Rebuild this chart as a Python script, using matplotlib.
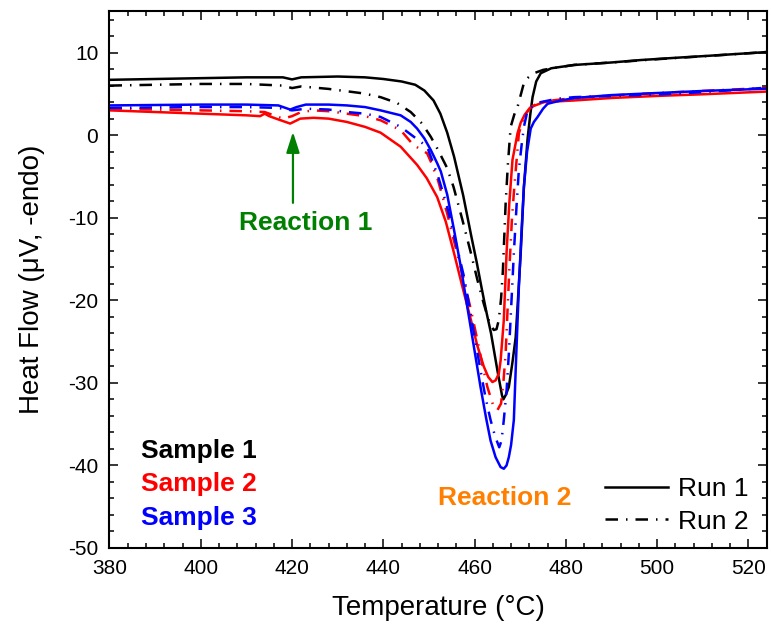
import matplotlib
matplotlib.use('Agg')
import matplotlib.pyplot as plt
from matplotlib.lines import Line2D
from matplotlib.ticker import MultipleLocator

plt.rcParams['font.family'] = ['Liberation Sans', 'DejaVu Sans']
plt.rcParams['axes.unicode_minus'] = False

# temperature (C) / heat flow (uV)
s1_run1_T = [380, 390, 400, 410, 418, 420, 422, 430, 436, 440, 444, 447, 449, 451, 452.5, 454, 455.5,
             457.5, 459.3, 460.5, 461.5, 462.5, 463.6, 465, 466, 466.3, 466.8, 467.5, 468.3, 469, 469.6,
             470.1, 470.8, 471.6, 472.2, 472.7, 473.5, 474.5, 476.8, 481.8, 490, 496.5, 505, 511, 518, 525]
s1_run1_y = [6.7, 6.8, 6.9, 7.0, 7.0, 6.75, 7.0, 7.1, 7.0, 6.8, 6.5, 6.1, 5.4, 4.2, 2.6, 0.3, -2.6,
             -7.3, -12.3, -15.5, -18.4, -21.2, -24.0, -28.5, -31.5, -32.0, -31.5, -30.5, -27.5, -24.5, -19.0,
             -14.3, -6.3, -0.5, 2.5, 4.6, 6.5, 7.5, 8.1, 8.5, 8.8, 9.1, 9.4, 9.6, 9.85, 10.1]

s1_run2_T = [380, 390, 400, 410, 418, 420, 422, 428, 435.7, 439.4, 443, 446, 448.5, 450.4, 452, 454,
             455.4, 457.3, 459.2, 460.6, 462, 463.3, 464.2, 464.8, 465.3, 465.8, 466.2, 466.8, 467.3,
             467.9, 468.7, 469.4, 470.8, 471.8, 473, 475, 477, 481.8, 490, 500, 510, 525]
s1_run2_y = [6.0, 6.1, 6.2, 6.2, 6.0, 5.7, 5.9, 5.6, 5.05, 4.6, 3.9, 2.8, 1.4, -0.2, -1.8, -4.0,
             -6.3, -10.2, -14.3, -17.5, -20.4, -22.8, -23.6, -23.5, -22.4, -19.8, -16.4, -8.3, -3.5,
             1.0, 2.5, 3.4, 6.3, 7.0, 7.5, 7.9, 8.1, 8.5, 8.8, 9.2, 9.55, 10.1]

s2_run1_T = [380, 390, 400, 410, 413, 414, 415, 417, 419.6, 421.8, 424.7, 428, 432, 436, 439.4, 443.8,
             447.4, 449.5, 451.8, 453.7, 455.5, 457.3, 459.2, 460.6, 462, 463, 463.9, 464.6, 465.3,
             465.7, 466.4, 467, 467.6, 468.3, 469.4, 470.1, 471, 472.3, 475.2, 481.8, 490, 500, 510, 525]
s2_run1_y = [3.0, 2.8, 2.6, 2.4, 2.3, 2.6, 2.3, 1.9, 1.4, 2.0, 2.1, 2.0, 1.6, 1.0, 0.3, -1.4,
             -3.6, -5.2, -7.5, -10.5, -14.3, -18.3, -22.4, -25.5, -28.0, -29.3, -29.9, -29.7, -28.9,
             -27.3, -22.4, -14.3, -8.3, -3.0, 0.2, 1.5, 2.5, 3.4, 4.0, 4.2, 4.5, 4.75, 4.95, 5.3]

s2_run2_T = [380, 390, 400, 410, 414, 416, 418, 420, 422, 424.7, 428, 432, 436, 439.4, 443.8, 446.6,
             449.6, 450.4, 452, 454, 455.8, 457.7, 459.2, 460.6, 461.7, 462.8, 464, 465, 465.8, 466.3,
             466.8, 467.6, 468.2, 468.7, 469.7, 470.8, 472, 473.8, 477, 481.8, 490, 500, 510, 525]
s2_run2_y = [3.2, 3.1, 3.0, 2.9, 2.8, 2.4, 2.0, 2.3, 2.8, 3.0, 2.9, 2.6, 2.3, 1.8, 0.6, -1.2,
             -2.2, -3.2, -5.5, -9.5, -13.5, -17.6, -21.2, -24.8, -27.8, -30.5, -32.6, -33.3, -32.5, -30.0,
             -26.5, -16.4, -10.0, -6.3, 0.2, 2.2, 3.2, 3.9, 4.2, 4.5, 4.8, 5.1, 5.35, 5.75]

s3_run1_T = [380, 390, 400, 410, 417, 419.6, 421, 423, 428, 432, 436, 439.4, 443.8, 446, 447.4, 449,
             450.4, 451.8, 452.6, 454, 455.5, 457, 458.4, 459.9, 461.3, 462.5, 463.5, 464.6, 465.7,
             466.4, 467, 467.5, 468, 468.6, 469.1, 469.7, 470.3, 470.8, 471.5, 472.3, 473, 473.8, 475,
             476, 478.9, 482, 490, 500, 510, 525]
s3_run1_y = [3.6, 3.65, 3.7, 3.7, 3.6, 3.1, 3.4, 3.7, 3.7, 3.6, 3.4, 3.0, 2.4, 1.6, 0.8, -0.4,
             -1.8, -3.4, -4.4, -7.2, -11.5, -16.0, -20.8, -25.8, -30.5, -34.2, -37.0, -39.0, -40.2,
             -40.4, -40.0, -39.0, -37.5, -34.5, -27.0, -18.4, -11.5, -6.3, -2.0, 0.8, 1.6, 2.2, 3.2,
             3.8, 4.2, 4.5, 4.85, 5.1, 5.35, 5.65]

s3_run2_T = [380, 390, 400, 410, 417, 420, 423, 428, 432, 436, 439.4, 443.8, 446.7, 449.6, 450.4, 452,
             454, 455.8, 457.7, 459.5, 461.3, 462.4, 463.5, 464.5, 465.4, 465.9, 466.4, 467, 467.5, 468,
             468.6, 469.2, 469.7, 470.3, 470.8, 471.6, 473, 474.5, 478, 481.8, 490, 496.5, 505, 511,
             518, 525]
s3_run2_y = [3.3, 3.35, 3.4, 3.4, 3.3, 3.0, 3.2, 3.1, 2.8, 2.6, 2.2, 1.0, -0.2, -1.4, -2.6, -5.0,
             -8.7, -12.8, -17.2, -22.8, -28.5, -31.8, -34.5, -36.5, -37.8, -37.0, -34.5, -31.0, -26.5, -21.0,
             -14.3, -8.5, -4.2, -1.2, 1.0, 3.0, 3.6, 4.0, 4.4, 4.6, 4.75, 4.85, 5.05, 5.25,
             5.5, 5.8]

sample_names = ['Sample 1', 'Sample 2', 'Sample 3']
sample_colors = ['black', 'red', 'blue']
run_names = ['Run 1', 'Run 2']

dashdot = (0, (5, 3.2, 0.6, 3.2))

fig = plt.figure(figsize=(7.71, 6.27), dpi=100)
ax = fig.add_axes([0.142, 0.126, 0.8524, 0.856])

ax.plot(s1_run1_T, s1_run1_y, color='black', lw=1.8)
ax.plot(s1_run2_T, s1_run2_y, color='black', lw=1.8, linestyle=dashdot)
ax.plot(s2_run1_T, s2_run1_y, color='red', lw=1.8)
ax.plot(s2_run2_T, s2_run2_y, color='red', lw=1.8, linestyle=dashdot)
ax.plot(s3_run1_T, s3_run1_y, color='blue', lw=1.8)
ax.plot(s3_run2_T, s3_run2_y, color='blue', lw=1.8, linestyle=dashdot)

ax.set_xlim(380, 524)
ax.set_ylim(-50, 15)
ax.xaxis.set_major_locator(MultipleLocator(20))
ax.xaxis.set_minor_locator(MultipleLocator(4))
ax.yaxis.set_major_locator(MultipleLocator(10))
ax.yaxis.set_minor_locator(MultipleLocator(2))
ax.tick_params(which='both', direction='in', top=True, right=True, width=1.1, labelsize=15)
ax.tick_params(which='major', length=6.5, pad=8)
ax.tick_params(which='minor', length=3.5)
for sp in ax.spines.values():
    sp.set_linewidth(1.5)

ax.set_xlabel('Temperature (\u00b0C)', fontsize=20, labelpad=12)
ax.set_ylabel('Heat Flow (\u03bcV, -endo)', fontsize=20, labelpad=17)

# annotations
ax.annotate('', xy=(420.2, 0.4), xytext=(420.2, -8.2),
            arrowprops=dict(arrowstyle='-|>,head_length=0.5,head_width=0.16',
                            color='#008000', lw=1.6, mutation_scale=25, shrinkA=0, shrinkB=0))
ax.text(423, -10.6, 'Reaction 1', color='#008000', fontsize=19, fontweight='bold',
        ha='center', va='center')
ax.text(466.5, -43.9, 'Reaction 2', color='#FF8000', fontsize=19, fontweight='bold',
        ha='center', va='center')

for i, name in enumerate(sample_names):
    ax.text(386.9, -38.2 - 4.1 * i, name, color=sample_colors[i], fontsize=19,
            fontweight='bold', ha='left', va='center')

handles = [Line2D([], [], color='black', lw=1.8),
           Line2D([], [], color='black', lw=1.8, linestyle=dashdot)]
ax.legend(handles, run_names, loc='lower right', bbox_to_anchor=(0.972, 0.027),
          frameon=False, fontsize=19, handlelength=2.4, handletextpad=0.35,
          labelspacing=0.32, borderpad=0, borderaxespad=0)

plt.savefig('out.png', dpi=100)
